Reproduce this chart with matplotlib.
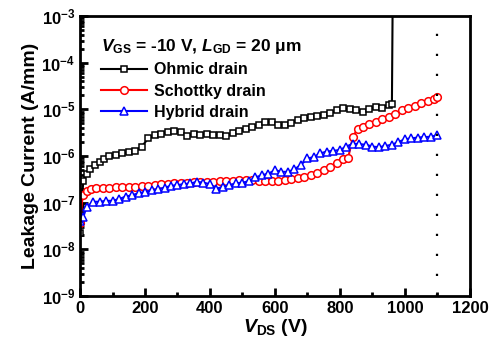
import numpy as np
import matplotlib.pyplot as plt

plt.rcParams['font.family'] = 'Liberation Sans'
plt.rcParams['font.weight'] = 'bold'
plt.rcParams['mathtext.fontset'] = 'custom'
plt.rcParams['mathtext.rm'] = 'Liberation Sans:bold'
plt.rcParams['mathtext.it'] = 'Liberation Sans:bold:italic'
plt.rcParams['mathtext.bf'] = 'Liberation Sans:bold'

# Ohmic drain (last point = breakdown jump, drawn without marker)
v_ohmic = [0, 10, 20, 30, 45, 60, 75, 90, 110, 130, 150, 170, 190, 210, 230, 250, 270, 290,
           310, 330, 350, 370, 390, 410, 430, 450, 470, 490, 510, 530, 550, 570, 590, 610,
           630, 650, 670, 690, 710, 730, 750, 770, 790, 810, 830, 850, 870, 890, 910, 930,
           950, 960, 963]
i_ohmic = [2.2e-8, 3.0e-7, 4.2e-7, 5.2e-7, 6.5e-7, 7.5e-7, 8.5e-7, 1.0e-6, 1.05e-6, 1.15e-6,
           1.2e-6, 1.3e-6, 1.6e-6, 2.4e-6, 2.8e-6, 3.0e-6, 3.3e-6, 3.4e-6, 3.3e-6, 2.7e-6,
           3.0e-6, 2.9e-6, 3.0e-6, 2.8e-6, 2.9e-6, 2.7e-6, 3.1e-6, 3.5e-6, 3.9e-6, 4.2e-6,
           4.6e-6, 5.3e-6, 5.5e-6, 4.6e-6, 4.7e-6, 5.2e-6, 5.8e-6, 6.4e-6, 6.8e-6, 7.2e-6,
           7.6e-6, 8.2e-6, 9.5e-6, 1.05e-5, 1.0e-5, 9.5e-6, 8.9e-6, 1.0e-5, 1.15e-5, 1.1e-5,
           1.25e-5, 1.3e-5, 1e-2]

# Schottky drain
v_schottky = [0, 8, 20, 35, 50, 70, 90, 110, 130, 150, 170, 190, 210, 230, 250, 270, 290,
              310, 330, 350, 370, 390, 410, 430, 450, 470, 490, 510, 530, 550, 570, 590, 610,
              630, 650, 670, 690, 710, 730, 750, 770, 790, 810, 825, 840, 855, 870, 890, 910,
              930, 950, 970, 990, 1010, 1030, 1050, 1070, 1090, 1100]
i_schottky = [3.6e-8, 1.45e-7, 1.8e-7, 2.0e-7, 2.1e-7, 2.1e-7, 2.1e-7, 2.15e-7, 2.15e-7,
              2.2e-7, 2.2e-7, 2.25e-7, 2.3e-7, 2.4e-7, 2.5e-7, 2.55e-7, 2.6e-7, 2.6e-7,
              2.7e-7, 2.75e-7, 2.8e-7, 2.8e-7, 2.85e-7, 2.9e-7, 2.95e-7, 3.0e-7, 3.1e-7,
              3.1e-7, 3.1e-7, 3.0e-7, 2.95e-7, 2.9e-7, 3.0e-7, 3.1e-7, 3.2e-7, 3.4e-7, 3.6e-7,
              3.9e-7, 4.4e-7, 5.0e-7, 5.8e-7, 7.0e-7, 8.5e-7, 9.0e-7, 2.6e-6, 3.9e-6, 4.3e-6,
              4.9e-6, 5.5e-6, 6.3e-6, 7.0e-6, 7.8e-6, 9.5e-6, 1.1e-5, 1.2e-5, 1.35e-5, 1.5e-5,
              1.7e-5, 1.85e-5]

# Hybrid drain
v_hybrid = [0, 10, 20, 40, 60, 80, 100, 120, 140, 160, 180, 200, 220, 240, 260, 280, 300,
            320, 340, 360, 380, 400, 420, 440, 460, 480, 500, 520, 540, 560, 580, 600, 620,
            640, 660, 680, 700, 720, 740, 760, 780, 800, 820, 840, 860, 880, 900, 920, 940,
            960, 980, 1000, 1020, 1040, 1060, 1080, 1100]
i_hybrid = [4.0e-8, 5.0e-8, 8e-8, 1.05e-7, 1.05e-7, 1.1e-7, 1.1e-7, 1.2e-7, 1.35e-7, 1.45e-7,
            1.6e-7, 1.7e-7, 1.85e-7, 1.95e-7, 2.1e-7, 2.3e-7, 2.4e-7, 2.5e-7, 2.6e-7, 2.8e-7,
            2.7e-7, 2.5e-7, 2.0e-7, 2.2e-7, 2.4e-7, 2.6e-7, 2.7e-7, 2.9e-7, 3.5e-7, 3.9e-7,
            4.2e-7, 5.0e-7, 4.6e-7, 4.6e-7, 5.2e-7, 6.5e-7, 8.9e-7, 9.5e-7, 1.15e-6, 1.25e-6,
            1.3e-6, 1.35e-6, 1.6e-6, 1.85e-6, 1.8e-6, 1.75e-6, 1.6e-6, 1.55e-6, 1.65e-6,
            1.75e-6, 2.0e-6, 2.3e-6, 2.4e-6, 2.5e-6, 2.55e-6, 2.6e-6, 2.8e-6]

v_limit = 1100
ytick_vals = [1e-9, 1e-8, 1e-7, 1e-6, 1e-5, 1e-4, 1e-3]
ytick_labels = [r'$\mathrm{10^{-9}}$', r'$\mathrm{10^{-8}}$', r'$\mathrm{10^{-7}}$',
                r'$\mathrm{10^{-6}}$', r'$\mathrm{10^{-5}}$', r'$\mathrm{10^{-4}}$',
                r'$\mathrm{10^{-3}}$']

fig = plt.figure(figsize=(4.91, 3.5), dpi=100)
ax = fig.add_axes([0.163, 0.154, 0.794, 0.8])

ax.plot(v_ohmic, i_ohmic, color='black', marker='s', ms=5, mfc='white', mew=1.1,
        lw=1.5, markevery=slice(0, len(v_ohmic) - 1), label='Ohmic drain')
ax.plot(v_schottky, i_schottky, color='red', marker='o', ms=5.5, mfc='white', mew=1.1,
        lw=1.5, label='Schottky drain')
ax.plot(v_hybrid, i_hybrid, color='blue', marker='^', ms=6, mfc='white', mew=1.1,
        lw=1.5, label='Hybrid drain')

ax.axvline(v_limit, color='black', lw=1.6, linestyle=(0, (1, 8)))

ax.set_yscale('log')
ax.set_xlim(0, 1200)
ax.set_ylim(1e-9, 1e-3)
ax.set_xticks(np.arange(0, 1201, 200))
ax.set_xticks(np.arange(100, 1200, 200), minor=True)
ax.set_yticks(ytick_vals)
ax.set_yticklabels(ytick_labels)
ax.tick_params(which='both', direction='in', width=2, labelsize=12)
ax.tick_params(which='major', length=6)
ax.tick_params(which='minor', length=3)
for s in ax.spines.values():
    s.set_linewidth(2)

ax.set_xlabel(r'$V_{\rm DS}$ (V)', fontsize=14, fontweight='bold', labelpad=1)
ax.set_ylabel('Leakage Current (A/mm)', fontsize=14, fontweight='bold', labelpad=2)

leg = ax.legend(loc='upper left', frameon=False, prop={'size': 11.5, 'weight': 'bold'},
                title=r'$V_{\rm GS}$ = -10 V, $L_{\rm GD}$ = 20 μm',
                title_fontproperties={'size': 12.5, 'weight': 'bold'},
                handlelength=2.9, handletextpad=0.4, labelspacing=0.4,
                borderaxespad=0.9, alignment='left')

fig.savefig('out.png', dpi=100)
